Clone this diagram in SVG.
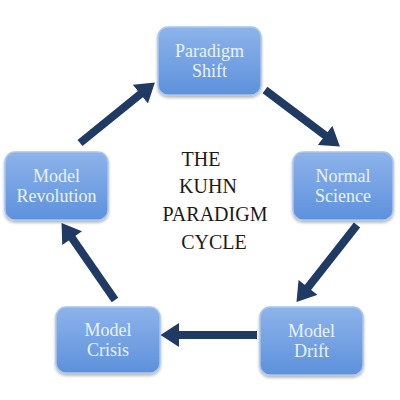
<svg xmlns="http://www.w3.org/2000/svg" width="400" height="400" viewBox="0 0 400 400">
<defs>
<linearGradient id="bg" x1="0" y1="0" x2="0" y2="1">
<stop offset="0" stop-color="#8db3ea"/>
<stop offset="1" stop-color="#5d91dc"/>
</linearGradient>
<filter id="sh" x="-10%" y="-10%" width="125%" height="130%">
<feGaussianBlur in="SourceAlpha" stdDeviation="1.5"/>
<feOffset dx="0" dy="2" result="b"/>
<feComponentTransfer><feFuncA type="linear" slope="0.3"/></feComponentTransfer>
<feMerge><feMergeNode/><feMergeNode in="SourceGraphic"/></feMerge>
</filter>
<marker id="ah" markerUnits="userSpaceOnUse" markerWidth="20" markerHeight="24" refX="1" refY="11" orient="auto" viewBox="0 0 18 22">
<path d="M0,0 L17,11 L0,22 Z" fill="#1f3b63"/>
</marker>
</defs>
<style>
.box{fill:url(#bg);stroke:#aac6ee;stroke-width:1.5;filter:url(#sh)}
.lbl{font-family:"Liberation Serif","Times New Roman",serif;font-size:18px;fill:#eaf2fc;text-anchor:middle}
.title{font-family:"Liberation Serif","Times New Roman",serif;font-size:20px;fill:#1a1a1a;text-anchor:middle}
.arr{stroke:#1f3b63;stroke-width:8;fill:none}
</style>
<rect width="400" height="400" fill="#ffffff"/>
<g id="connectors">
<line class="arr" x1="80" y1="143" x2="141.3" y2="93.4" marker-end="url(#ah)"/>
<line class="arr" x1="265" y1="90" x2="326" y2="136" marker-end="url(#ah)"/>
<line class="arr" x1="357" y1="225" x2="307.3" y2="288.2" marker-end="url(#ah)"/>
<line class="arr" x1="257" y1="335" x2="178" y2="335" marker-end="url(#ah)"/>
<line class="arr" x1="115" y1="300" x2="71.5" y2="237.3" marker-end="url(#ah)"/>
</g>
<g id="paradigm-shift">
<rect class="box" x="158" y="27" width="103" height="68" rx="10"/>
<text class="lbl" x="209.5" y="57">Paradigm</text>
<text class="lbl" x="209.5" y="77">Shift</text>
</g>
<g id="normal-science">
<rect class="box" x="293" y="152" width="100" height="68" rx="10"/>
<text class="lbl" x="343" y="182">Normal</text>
<text class="lbl" x="343" y="202">Science</text>
</g>
<g id="model-drift">
<rect class="box" x="260" y="307" width="103" height="68" rx="10"/>
<text class="lbl" x="311.5" y="337">Model</text>
<text class="lbl" x="311.5" y="357">Drift</text>
</g>
<g id="model-crisis">
<rect class="box" x="56" y="307" width="104" height="66" rx="10"/>
<text class="lbl" x="108" y="336">Model</text>
<text class="lbl" x="108" y="356">Crisis</text>
</g>
<g id="model-revolution">
<rect class="box" x="5" y="152" width="103" height="68" rx="10"/>
<text class="lbl" x="56.5" y="182">Model</text>
<text class="lbl" x="56.5" y="202">Revolution</text>
</g>
<g id="title">
<text class="title" x="201" y="166">THE</text>
<text class="title" x="208" y="193">KUHN</text>
<text class="title" x="215" y="221">PARADIGM</text>
<text class="title" x="214" y="249">CYCLE</text>
</g>
</svg>
